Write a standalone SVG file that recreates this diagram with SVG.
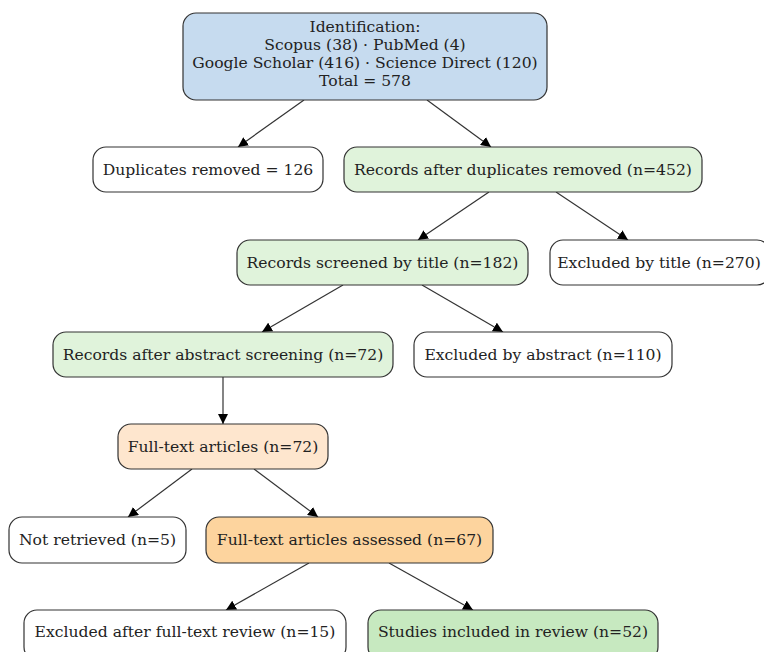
<svg xmlns="http://www.w3.org/2000/svg" width="764" height="652" viewBox="0 0 764 652">
<defs>
<marker id="ah" viewBox="0 0 10 10" refX="10" refY="5" markerWidth="10" markerHeight="10" markerUnits="userSpaceOnUse" orient="auto">
<path d="M0,0 L10,5 L0,10 z" fill="#000"/>
</marker>
<style>
.n{stroke:#333;stroke-width:1.2}
.t{font-family:"DejaVu Serif",serif;font-size:15.6px;fill:#222;text-anchor:middle}
.e{stroke:#333;stroke-width:1.2;fill:none;marker-end:url(#ah)}
</style>
</defs>
<rect width="764" height="652" fill="#fff"/>
<g id="edges">
<line class="e" x1="304" y1="100" x2="238" y2="147"/>
<line class="e" x1="427" y1="100" x2="491" y2="147"/>
<line class="e" x1="489" y1="192" x2="418" y2="240"/>
<line class="e" x1="556" y1="192" x2="628" y2="240"/>
<line class="e" x1="343" y1="285" x2="262" y2="332"/>
<line class="e" x1="422" y1="285" x2="503" y2="332"/>
<line class="e" x1="223" y1="377" x2="223" y2="424"/>
<line class="e" x1="192" y1="469" x2="128" y2="517"/>
<line class="e" x1="254" y1="469" x2="318" y2="517"/>
<line class="e" x1="309" y1="563" x2="226" y2="610"/>
<line class="e" x1="389" y1="563" x2="473" y2="610"/>
</g>
<g id="identification">
<rect class="n" x="183" y="13" width="364" height="87" rx="13" fill="#c6dbef"/>
<text class="t" x="365" y="32">Identification:</text>
<text class="t" x="365" y="50">Scopus (38) · PubMed (4)</text>
<text class="t" x="365" y="68">Google Scholar (416) · Science Direct (120)</text>
<text class="t" x="365" y="86">Total = 578</text>
</g>
<g id="duplicates">
<rect class="n" x="93" y="147" width="230" height="45" rx="13" fill="#fff"/>
<text class="t" x="208" y="174.5">Duplicates removed = 126</text>
</g>
<g id="after_dup">
<rect class="n" x="344" y="147" width="358" height="45" rx="13" fill="#e0f3db"/>
<text class="t" x="523" y="174.5">Records after duplicates removed (n=452)</text>
</g>
<g id="screened_title">
<rect class="n" x="237" y="240" width="291" height="45" rx="13" fill="#e0f3db"/>
<text class="t" x="382.5" y="267.5">Records screened by title (n=182)</text>
</g>
<g id="excluded_title">
<rect class="n" x="550" y="240" width="220" height="45" rx="13" fill="#fff"/>
<text class="t" x="659" y="267.5">Excluded by title (n=270)</text>
</g>
<g id="after_abstract">
<rect class="n" x="53" y="332" width="340" height="45" rx="13" fill="#e0f3db"/>
<text class="t" x="223" y="359.5">Records after abstract screening (n=72)</text>
</g>
<g id="excluded_abstract">
<rect class="n" x="414" y="332" width="258" height="45" rx="13" fill="#fff"/>
<text class="t" x="543" y="359.5">Excluded by abstract (n=110)</text>
</g>
<g id="fulltext">
<rect class="n" x="118" y="424" width="210" height="45" rx="13" fill="#fee6ce"/>
<text class="t" x="223" y="451.5">Full-text articles (n=72)</text>
</g>
<g id="not_retrieved">
<rect class="n" x="9" y="517" width="177" height="46" rx="13" fill="#fff"/>
<text class="t" x="97.5" y="544.5">Not retrieved (n=5)</text>
</g>
<g id="assessed">
<rect class="n" x="206" y="517" width="287" height="46" rx="13" fill="#fdd49e"/>
<text class="t" x="349.5" y="544.5">Full-text articles assessed (n=67)</text>
</g>
<g id="excluded_fulltext">
<rect class="n" x="24" y="610" width="322" height="50" rx="13" fill="#fff"/>
<text class="t" x="185" y="637">Excluded after full-text review (n=15)</text>
</g>
<g id="included">
<rect class="n" x="368" y="610" width="290" height="50" rx="13" fill="#c7e9c0"/>
<text class="t" x="513" y="637">Studies included in review (n=52)</text>
</g>
</svg>
